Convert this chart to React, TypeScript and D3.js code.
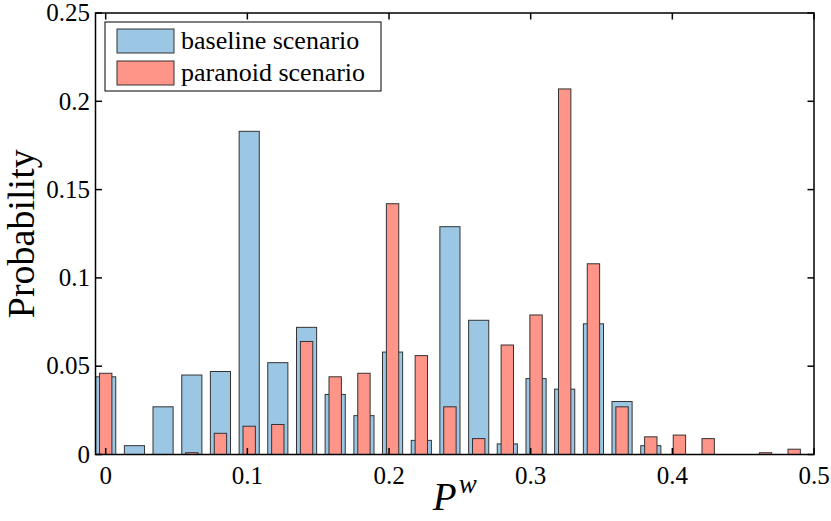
import { useRef, useEffect } from "react";
import * as d3 from "d3";

// bin centers of the histogram (P^w)
const binCenters = [
    0.0, 0.0203, 0.0405, 0.0608, 0.081, 0.1013, 0.1215, 0.1418, 0.162, 0.1823,
    0.2025, 0.2228, 0.243, 0.2633, 0.2835, 0.3038, 0.324, 0.3443, 0.3645, 0.3848,
    0.405, 0.4253, 0.4455, 0.4658, 0.486,
];

const baseline = [
    0.044, 0.005, 0.027, 0.045, 0.047, 0.183, 0.052, 0.072, 0.034, 0.022,
    0.058, 0.008, 0.129, 0.076, 0.006, 0.043, 0.037, 0.074, 0.03, 0.005,
    0, 0, 0, 0, 0,
];

const paranoid = [
    0.046, 0, 0, 0.001, 0.012, 0.016, 0.017, 0.064, 0.044, 0.046,
    0.142, 0.056, 0.027, 0.009, 0.062, 0.079, 0.207, 0.108, 0.027, 0.01,
    0.011, 0.009, 0, 0.001, 0.003,
];

const xTicks = [0, 0.1, 0.2, 0.3, 0.4, 0.5];
const yTicks = [0, 0.05, 0.1, 0.15, 0.2, 0.25];
const seriesNames = ["baseline scenario", "paranoid scenario"];

const BLUE = "#9bc6e4";
const RED = "#ff9488";
const EDGE = "#333333";
const FONT = "'Liberation Serif', 'Times New Roman', serif";

export default function App() {
    const svgRef = useRef<SVGSVGElement | null>(null);
    const width = 831;
    const height = 521;

    useEffect(() => {
        if (!svgRef.current) return;
        const svg = d3.select(svgRef.current);
        svg.selectAll("*").remove();

        const margin = { top: 13, right: 17, bottom: 66.5, left: 95.5 };
        const x = d3
            .scaleLinear()
            .domain([-0.0072, 0.5])
            .range([margin.left, width - margin.right]);
        const y = d3
            .scaleLinear()
            .domain([0, 0.25])
            .range([height - margin.bottom, margin.top]);

        const binStep = binCenters[1] - binCenters[0];
        const blueW = x(binStep * 0.7) - x(0);
        const redW = x(binStep * 0.43) - x(0);

        svg.append("defs")
            .append("clipPath")
            .attr("id", "plot-clip")
            .append("rect")
            .attr("x", margin.left)
            .attr("y", margin.top)
            .attr("width", width - margin.left - margin.right)
            .attr("height", height - margin.top - margin.bottom);

        const bars = svg.append("g").attr("clip-path", "url(#plot-clip)");

        bars.selectAll("rect.base")
            .data(binCenters.map((c, i) => ({ c, v: baseline[i] })).filter(d => d.v > 0))
            .enter()
            .append("rect")
            .attr("class", "base")
            .attr("x", d => x(d.c) - blueW / 2)
            .attr("y", d => y(d.v))
            .attr("width", blueW)
            .attr("height", d => y(0) - y(d.v))
            .attr("fill", BLUE)
            .attr("stroke", EDGE)
            .attr("stroke-width", 1);

        bars.selectAll("rect.para")
            .data(binCenters.map((c, i) => ({ c, v: paranoid[i] })).filter(d => d.v > 0))
            .enter()
            .append("rect")
            .attr("class", "para")
            .attr("x", d => x(d.c) - redW / 2)
            .attr("y", d => y(d.v))
            .attr("width", redW)
            .attr("height", d => y(0) - y(d.v))
            .attr("fill", RED)
            .attr("stroke", EDGE)
            .attr("stroke-width", 1);

        // box
        const x0 = x.range()[0], x1 = x.range()[1];
        const y0 = y.range()[0], y1 = y.range()[1];
        const axes = svg.append("g").attr("stroke", "#000").attr("stroke-width", 1.5).attr("fill", "none");
        axes.append("rect")
            .attr("x", x0)
            .attr("y", y1)
            .attr("width", x1 - x0)
            .attr("height", y0 - y1);

        const tickLen = 6.5;
        xTicks.forEach(t => {
            axes.append("line").attr("x1", x(t)).attr("x2", x(t)).attr("y1", y0).attr("y2", y0 - tickLen);
            axes.append("line").attr("x1", x(t)).attr("x2", x(t)).attr("y1", y1).attr("y2", y1 + tickLen);
        });
        yTicks.forEach(t => {
            axes.append("line").attr("x1", x0).attr("x2", x0 + tickLen).attr("y1", y(t)).attr("y2", y(t));
            axes.append("line").attr("x1", x1).attr("x2", x1 - tickLen).attr("y1", y(t)).attr("y2", y(t));
        });

        // tick labels
        svg.append("g")
            .selectAll("text")
            .data(xTicks)
            .enter()
            .append("text")
            .attr("x", d => x(d))
            .attr("y", 484)
            .attr("text-anchor", "middle")
            .attr("font-family", FONT)
            .attr("font-size", 25)
            .text(d => d3.format("")(d));

        svg.append("g")
            .selectAll("text")
            .data(yTicks)
            .enter()
            .append("text")
            .attr("x", 90)
            .attr("y", d => y(d))
            .attr("dy", "0.33em")
            .attr("text-anchor", "end")
            .attr("font-family", FONT)
            .attr("font-size", 25)
            .text(d => d3.format("")(d));

        // axis labels
        svg.append("text")
            .attr("transform", `translate(34,${(y0 + y1) / 2}) rotate(-90)`)
            .attr("text-anchor", "middle")
            .attr("font-family", FONT)
            .attr("font-size", 38)
            .text("Probability");

        const xl = svg.append("text")
            .attr("x", (x0 + x1) / 2)
            .attr("y", 510)
            .attr("text-anchor", "middle")
            .attr("font-family", FONT)
            .attr("font-style", "italic");
        xl.append("tspan").attr("font-size", 39).text("P");
        xl.append("tspan").attr("font-size", 27).attr("dx", 2).attr("dy", -17).text("w");

        // legend
        const lg = svg.append("g");
        lg.append("rect")
            .attr("x", 105)
            .attr("y", 22)
            .attr("width", 276)
            .attr("height", 69)
            .attr("fill", "#fff")
            .attr("stroke", "#000")
            .attr("stroke-width", 1);
        [BLUE, RED].forEach((c, i) => {
            const cy = 41 + i * 32;
            lg.append("rect")
                .attr("x", 117)
                .attr("y", cy - 12)
                .attr("width", 57)
                .attr("height", 24)
                .attr("fill", c)
                .attr("stroke", EDGE)
                .attr("stroke-width", 1);
            lg.append("text")
                .attr("x", 181)
                .attr("y", cy)
                .attr("dy", "0.3em")
                .attr("font-family", FONT)
                .attr("font-size", 26)
                .text(seriesNames[i]);
        });
    }, []);

    return (
        <svg
            ref={svgRef}
            width={width}
            height={height}
            style={{ position: "absolute", left: 0, top: 0, background: "#fff" }}
        />
    );
}
